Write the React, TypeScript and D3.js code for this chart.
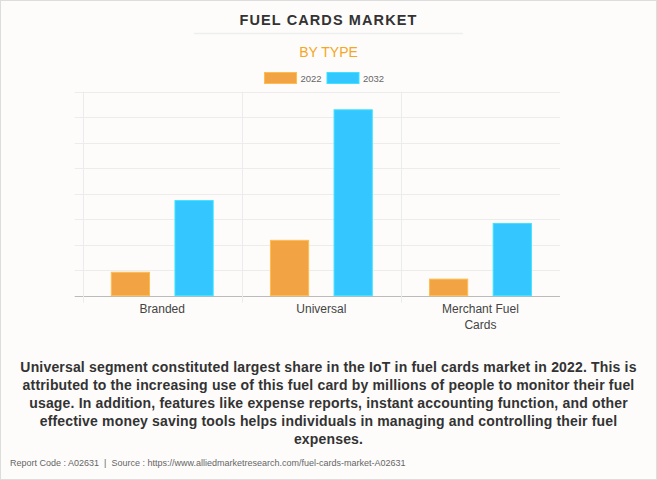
import React, { useRef, useEffect } from 'react';
import * as d3 from 'd3';

const categories = ['Branded', 'Universal', 'Merchant Fuel Cards'];
const seriesNames = ['2022', '2032'];
const values2022 = [0.92, 2.17, 0.65];
const values2032 = [3.73, 7.29, 2.83];
const seriesColors = ['#F2A444', '#33C6FF'];

const descriptionLines = [
  'Universal segment constituted largest share in the IoT in fuel cards market in 2022. This is',
  'attributed to the increasing use of this fuel card by millions of people to monitor their fuel',
  'usage. In addition, features like expense reports, instant accounting function, and other',
  'effective money saving tools helps individuals in managing and controlling their fuel',
  'expenses.',
];

const W = 657;
const H = 480;

const App: React.FC = () => {
  const svgRef = useRef<SVGSVGElement | null>(null);

  useEffect(() => {
    const svg = d3.select(svgRef.current);
    svg.selectAll('*').remove();

    const font = 'Arial, "Liberation Sans", Helvetica, sans-serif';

    // background + frame
    svg.append('rect')
      .attr('x', 0.5).attr('y', 0.5)
      .attr('width', W - 1).attr('height', H - 1)
      .attr('fill', '#fdfcfb')
      .attr('stroke', '#dddddd');

    // title
    svg.append('text')
      .attr('x', W / 2).attr('y', 25)
      .attr('text-anchor', 'middle')
      .attr('font-family', font)
      .attr('font-size', 14.5)
      .attr('font-weight', 'bold')
      .attr('letter-spacing', 1.1)
      .attr('fill', '#333333')
      .text('FUEL CARDS MARKET');

    svg.append('line')
      .attr('x1', 194).attr('x2', 463)
      .attr('y1', 33.5).attr('y2', 33.5)
      .attr('stroke', '#eeeeee')
      .attr('stroke-width', 1.5);

    svg.append('text')
      .attr('x', W / 2).attr('y', 57)
      .attr('text-anchor', 'middle')
      .attr('font-family', font)
      .attr('font-size', 14)
      .attr('fill', '#F5A623')
      .text('BY TYPE');

    // legend
    const legendX = [264.5, 327];
    seriesNames.forEach((name, i) => {
      svg.append('rect')
        .attr('x', legendX[i]).attr('y', 72.5)
        .attr('width', 32).attr('height', 11)
        .attr('fill', seriesColors[i])
        .attr('stroke', d3.color(seriesColors[i])!.brighter(0.4).toString())
        .attr('stroke-width', 1);
      svg.append('text')
        .attr('x', legendX[i] + 36).attr('y', 82)
        .attr('font-family', font)
        .attr('font-size', 9.5)
        .attr('fill', '#666666')
        .text(name);
    });

    // plot
    const left = 82.7;
    const right = 560;
    const top = 91.7;
    const bottom = 295.7;

    const x = d3.scaleBand<string>().domain(categories).range([left, right]).padding(0);
    const sub = d3.scaleBand<string>()
      .domain(seriesNames)
      .range([x.bandwidth() * 0.1, x.bandwidth() * 0.9])
      .paddingInner(0.4)
      .paddingOuter(0.2);
    const y = d3.scaleLinear().domain([0, 8]).range([bottom, top]);

    const g = svg.append('g');

    // horizontal grid
    y.ticks(8).forEach(t => {
      g.append('line')
        .attr('x1', left - 8).attr('x2', right)
        .attr('y1', Math.round(y(t)) + 0.5).attr('y2', Math.round(y(t)) + 0.5)
        .attr('stroke', t === 0 ? '#bbbbbb' : '#ececec')
        .attr('stroke-width', 1);
    });

    // vertical grid
    categories.forEach(c => {
      const xv = x(c)!;
      g.append('line')
        .attr('x1', Math.round(xv) + 0.5).attr('x2', Math.round(xv) + 0.5)
        .attr('y1', top).attr('y2', bottom + 7)
        .attr('stroke', '#ececec');
    });

    // bars
    const seriesValues = [values2022, values2032];
    categories.forEach((c, ci) => {
      seriesNames.forEach((s, si) => {
        const v = seriesValues[si][ci];
        g.append('rect')
          .attr('x', x(c)! + sub(s)!)
          .attr('y', y(v))
          .attr('width', sub.bandwidth())
          .attr('height', y(0) - y(v))
          .attr('fill', seriesColors[si])
          .attr('stroke', d3.color(seriesColors[si])!.brighter(0.4).toString())
          .attr('stroke-width', 1);
      });
    });

    // x labels
    categories.forEach(c => {
      const cx = x(c)! + x.bandwidth() / 2;
      const lines = c === 'Merchant Fuel Cards' ? ['Merchant Fuel', 'Cards'] : [c];
      lines.forEach((ln, li) => {
        g.append('text')
          .attr('x', cx).attr('y', 313 + li * 16)
          .attr('text-anchor', 'middle')
          .attr('font-family', font)
          .attr('font-size', 12)
          .attr('fill', '#444444')
          .text(ln);
      });
    });

    // description
    descriptionLines.forEach((ln, i) => {
      svg.append('text')
        .attr('x', W / 2).attr('y', 372 + i * 18)
        .attr('text-anchor', 'middle')
        .attr('font-family', font)
        .attr('font-size', 14)
        .attr('font-weight', 'bold')
        .attr('letter-spacing', 0.17)
        .attr('fill', '#333333')
        .text(ln);
    });

    // footer
    svg.append('text')
      .attr('x', 10).attr('y', 466)
      .attr('font-family', font)
      .attr('font-size', 9)
      .attr('fill', '#666666')
      .text('Report Code : A02631  |  Source : https://www.alliedmarketresearch.com/fuel-cards-market-A02631')
      .style('white-space', 'pre');
  }, []);

  return (
    <svg
      ref={svgRef}
      width={W}
      height={H}
      style={{ position: 'absolute', left: 0, top: 0, display: 'block' }}
    />
  );
};

export default App;
